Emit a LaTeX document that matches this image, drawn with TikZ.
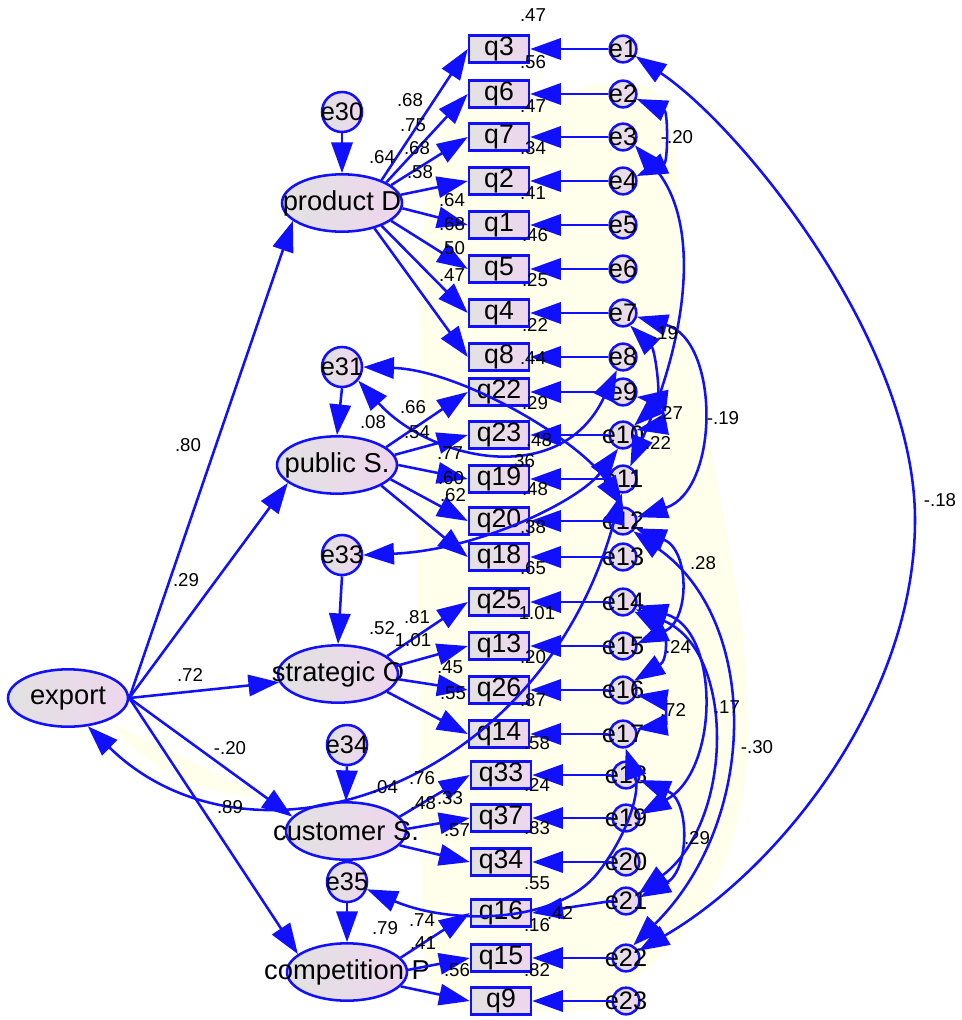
\documentclass[tikz,border=0pt]{standalone}
\usepackage{fontspec}
\setmainfont{Liberation Sans}
\usetikzlibrary{arrows.meta,shapes.geometric}
\definecolor{amosblue}{RGB}{16,16,255}
\definecolor{ivorybg}{RGB}{255,255,236}
\definecolor{fillL}{RGB}{226,226,226}
\definecolor{fillR}{RGB}{238,214,238}
\begin{document}
\begin{tikzpicture}[x=0.75pt,y=-0.75pt,
  arr/.style={draw=amosblue,line width=1.9pt,-{Triangle[length=23pt,width=16pt]}},
  dbl/.style={draw=amosblue,line width=1.9pt,{Triangle[length=23pt,width=16pt]}-{Triangle[length=23pt,width=16pt]}},
  obsbox/.style={rectangle,draw=amosblue,line width=1.9pt,left color=fillL,right color=fillR,
    minimum width=45pt,minimum height=20.5pt,inner sep=0pt,font=\fontsize{20}{20}\selectfont},
  latent/.style={ellipse,draw=amosblue,line width=1.9pt,left color=fillL,right color=fillR,
    minimum width=90pt,minimum height=43pt,inner sep=0pt},
  latlab/.style={font=\fontsize{20.5}{20.5}\selectfont,inner sep=0pt},
  errc/.style={circle,draw=amosblue,line width=1.9pt,left color=fillL,right color=fillR,
    minimum size=20pt,inner sep=0pt},
  errbig/.style={errc,minimum size=30pt},
  elab/.style={font=\fontsize{19}{19}\selectfont,inner sep=0pt},
  coef/.style={font=\fontsize{14}{14}\selectfont,inner sep=0pt}]

% canvas
\fill[white] (0,0) rectangle (961,1020);
\useasboundingbox (0,0) rectangle (961,1020);

% pale shaded regions behind the measurement block
\fill[ivorybg] plot[smooth cycle] coordinates {(545,98) (600,84) (650,88) (672,125) (680,220)
  (686,320) (705,420) (728,540) (745,660) (745,780) (722,870) (680,935) (640,975) (600,1008)
  (520,1012) (450,1005) (425,960) (420,800) (418,500) (425,200) (460,108)};
\fill[ivorybg] (110,722) -- (268,798) .. controls (200,796) and (140,765) .. (110,722);

% observed indicators
\foreach \n/\y in {q3/49,q6/94,q7/137,q2/181,q1/225,q5/269,q4/313,q8/357,q22/392,q23/435,
  q19/479,q20/521,q18/557,q25/602,q13/646,q26/690,q14/734}
  \node[obsbox] (\n) at (499,\y) {\n};
\foreach \n/\y in {q33/775,q37/818,q34/862,q16/913,q15/958,q9/1001}
  \node[obsbox] (\n) at (501,\y) {\n};

% error terms of the indicators
\foreach \i/\y in {1/49,2/94,3/137,4/181,5/225,6/269,7/313,8/357,9/392,10/435,11/479,
  12/521,13/557,14/602,15/646,16/690,17/734}
  \node[errc,label={[elab]center:e\i}] (e\i) at (623,\y) {};
\foreach \i/\y in {18/775,19/818,20/862,21/901,22/958,23/1001}
  \node[errc,label={[elab]center:e\i}] (e\i) at (626,\y) {};

% latent variables and their disturbances
\node[latent,label={[latlab]center:product D}] (prodD) at (342,203) {};
\node[latent,label={[latlab]center:public S.}] (pubS) at (337,465) {};
\node[latent,label={[latlab]center:strategic O}] (stratO) at (338,674) {};
\node[latent,label={[latlab]center:customer S.}] (custS) at (346,831) {};
\node[latent,label={[latlab]center:competition P}] (compP) at (347,972) {};
\node[latent,label={[latlab]center:export}] (export) at (68,698) {};
\node[errbig,label={[elab]center:e30}] (e30) at (342,112) {};
\node[errbig,label={[elab]center:e31}] (e31) at (342,367) {};
\node[errbig,label={[elab]center:e33}] (e33) at (342,555) {};
\node[errbig,label={[elab]center:e34}] (e34) at (347,745) {};
\node[errbig,label={[elab]center:e35}] (e35) at (347,882) {};

% disturbances to latents
\draw[arr] (e30.south) -- (prodD.north);
\draw[arr] (e31.south) -- (pubS.north);
\draw[arr] (e33.south) -- (stratO.north);
\draw[arr] (e34.south) -- (custS.north);
\draw[arr] (e35.south) -- (compP.north);

% structural paths from export
\draw[arr] (export.east) -- (prodD.200);
\draw[arr] (export.east) -- (pubS.200);
\draw[arr] (export.east) -- (stratO.188);
\draw[arr] (export.east) -- (custS.165);
\draw[arr] (export.east) -- (compP.160);

% loadings
\foreach \q/\a in {q3/30,q6/25,q7/20,q2/8,q1/-5,q5/-20,q4/-30,q8/-38}
  \draw[arr] (prodD.\a) -- (\q.west);
\foreach \q/\a in {q22/20,q23/10,q19/0,q20/-15,q18/-25}
  \draw[arr] (pubS.\a) -- (\q.west);
\foreach \q/\a in {q25/20,q13/8,q26/-5,q14/-20}
  \draw[arr] (stratO.\a) -- (\q.west);
\foreach \q/\a in {q33/15,q37/2,q34/-15}
  \draw[arr] (custS.\a) -- (\q.west);
\foreach \q/\a in {q16/15,q15/2,q9/-15}
  \draw[arr] (compP.\a) -- (\q.west);

% measurement errors
\foreach \i/\q in {1/q3,2/q6,3/q7,4/q2,5/q1,6/q5,7/q4,8/q8,9/q22,10/q23,11/q19,12/q20,
  13/q18,14/q25,15/q13,16/q26,17/q14,18/q33,19/q37,20/q34,21/q16,22/q15,23/q9}
  \draw[arr] (e\i.west) -- (\q.east);

% covariances
\draw[dbl] (e1.-30) .. controls (740,126) and (915,340) .. (915,520)
           .. controls (915,700) and (778,870) .. (e22.30);
\draw[dbl] (e2.-20) .. controls (668,112) and (668,162) .. (e4.20);
\draw[dbl] (e3.-35) .. controls (700,220) and (690,330) .. (e11.60);
\draw[dbl] (e7.-15) .. controls (720,340) and (720,490) .. (e12.15);
\draw[dbl] (e9.-20) .. controls (662,400) and (662,425) .. (e10.20);
\draw[dbl] (e10.40) .. controls (662,400) and (655,350) .. (e7.-60);
\draw[dbl] (e31.-40) .. controls (430,460) and (560,490) .. (e8.-115);
\draw[dbl] (e31.east) .. controls (460,370) and (580,440) .. (e12.north);
\draw[dbl] (e33.east) .. controls (480,550) and (580,500) .. (e10.-110);
\draw[dbl] (export.-55) .. controls (250,885) and (540,790) .. (e11.-95);
\draw[dbl] (e35.-20) .. controls (450,925) and (560,925) .. (600,870)
           .. controls (630,830) and (640,790) .. (e17.-80);
\draw[dbl] (e12.-30) .. controls (690,550) and (690,620) .. (e15.10);
\draw[dbl] (e12.-45) .. controls (760,620) and (760,820) .. (e22.60);
\draw[dbl] (e14.-30) .. controls (735,650) and (735,820) .. (e21.30);
\draw[dbl] (e14.-15) .. controls (720,630) and (720,770) .. (e19.15);
\draw[dbl] (e14.-40) .. controls (668,630) and (668,660) .. (e16.40);
\draw[dbl] (e16.-20) .. controls (666,700) and (666,725) .. (e17.20);
\draw[dbl] (e18.-20) .. controls (690,800) and (690,870) .. (e21.15);

% estimates
\foreach \t/\x/\y in {.47/533/15,.56/533/62,.47/533/106,.34/533/148,.41/533/193,.46/535/235,
  .25/535/280,.22/535/325,.44/533/358,.29/535/403,.48/539/440,.36/522/461,.48/535/489,
  .38/533/527,.65/533/568,1.01/537/613,.20/533/657,.87/533/700,.58/537/743,.24/537/785,
  .83/537/828,.55/537/883,.42/560/913,.16/537/925,.82/537/970,
  .64/382/157,.08/373/422,.52/382/628,.04/385/787,.79/385/928,
  .68/410/100,.75/413/125,.68/417/148,.58/420/172,.64/452/200,.68/452/224,.50/452/248,.47/452/275,
  .66/413/407,.54/417/432,.77/450/453,.60/451/478,.62/453/495,
  .81/417/617,1.01/413/640,.45/450/667,.55/453/693,
  .76/422/778,.48/423/803,.33/450/798,.57/457/830,
  .74/422/920,.41/423/943,.56/457/970,
  .80/188/445,.29/186/580,.72/190/675,-.20/230/748,.89/230/807,
  -.20/677/137,-.18/940/500,.19/665/333,-.19/723/418,.27/670/413,.22/658/443,.28/703/563,
  .24/678/647,.17/727/707,.72/673/710,-.30/757/747,.29/697/838}
  \node[coef] at (\x,\y) {\t};
\end{tikzpicture}
\end{document}
